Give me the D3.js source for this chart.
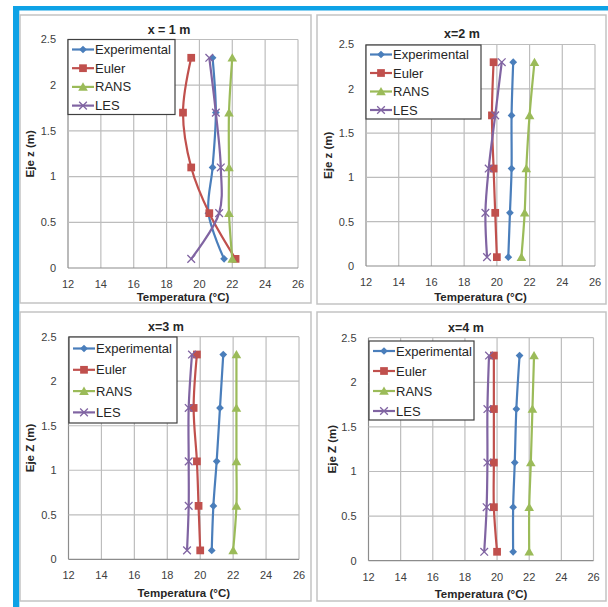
<!DOCTYPE html>
<html>
<head>
<meta charset="utf-8">
<script src="https://cdn.jsdelivr.net/npm/d3@7"></script>
<style>
  body { margin: 0; background: #fff; }
  svg { display: block; font-family: "Liberation Sans", Arial, sans-serif; }
  .tick-label { font-size: 11px; fill: #404040; }
  .axis-title { font-size: 11.5px; font-weight: bold; fill: #262626; }
  .chart-title { font-size: 12.5px; font-weight: bold; fill: #262626; }
  .legend-label { font-size: 13px; fill: #262626; }
</style>
</head>
<body>
<svg id="chart" width="608" height="607"></svg>
<script>
'use strict';

// ---- data ----
var seriesNames = ['Experimental', 'Euler', 'RANS', 'LES'];
var seriesColors = ['#4a7ebb', '#c0504d', '#9bbb59', '#8064a2'];
var seriesSymbols = ['diamond', 'square', 'triangle', 'times'];

var zLevels = [0.1, 0.6, 1.1, 1.7, 2.3];

var xTicks = [12, 14, 16, 18, 20, 22, 24, 26];
var yTicks = [0, 0.5, 1, 1.5, 2, 2.5];

var panelTitles = ['x = 1 m', 'x=2 m', 'x=3 m', 'x=4 m'];
var yTitles = ['Eje z (m)', 'Eje z (m)', 'Eje Z (m)', 'Eje Z (m)'];
var xTitle = 'Temperatura (°C)';

// temperatures per series (Experimental, Euler, RANS, LES), ordered as zLevels
var tempX1 = [
  [21.5, 20.55, 20.8, 21.0, 20.8],
  [22.2, 20.6, 19.5, 19.0, 19.5],
  [22.0, 21.8, 21.8, 21.8, 22.0],
  [19.5, 21.2, 21.3, 21.0, 20.6]
];
var tempX2 = [
  [20.7, 20.8, 20.9, 20.9, 21.0],
  [20.0, 19.9, 19.8, 19.7, 19.8],
  [21.5, 21.7, 21.8, 22.0, 22.3],
  [19.4, 19.3, 19.5, 19.9, 20.3]
];
var tempX3 = [
  [20.7, 20.8, 21.0, 21.2, 21.4],
  [20.0, 19.9, 19.8, 19.6, 19.8],
  [22.0, 22.2, 22.2, 22.2, 22.2],
  [19.2, 19.3, 19.3, 19.3, 19.5]
];
var tempX4 = [
  [21.0, 21.0, 21.1, 21.2, 21.4],
  [20.0, 19.8, 19.8, 19.8, 19.8],
  [22.0, 22.0, 22.1, 22.2, 22.3],
  [19.2, 19.35, 19.4, 19.4, 19.5]
];
var panelTemps = [tempX1, tempX2, tempX3, tempX4];

// ---- layout ----
var panels = [
  { box: [20, 15, 311, 303], plot: [68, 39.5, 298, 268], titleX: 169, titleY: 30, yTitleX: 30,
    legend: [68, 39.5, 175, 114.5], legendY0: 49.5, legendStep: 18.7, xTitleY: 297 },
  { box: [317, 15, 606, 304], plot: [366, 44.5, 595, 266], titleX: 462, titleY: 34, yTitleX: 328,
    legend: [366, 45, 481, 119], legendY0: 54.5, legendStep: 18.5, xTitleY: 297 },
  { box: [20, 312, 311, 601], plot: [68.5, 336.7, 299, 559.3], titleX: 166, titleY: 327, yTitleX: 30,
    legend: [69, 337, 177, 423], legendY0: 348.5, legendStep: 21.3, xTitleY: 593 },
  { box: [317, 312, 606, 601], plot: [368.5, 337.7, 593.5, 560.7], titleX: 466, titleY: 328, yTitleX: 332,
    legend: [369, 341, 474, 420], legendY0: 351, legendStep: 20, xTitleY: 593.5 }
];

var svg = d3.select('#chart');

// blue frame
svg.append('rect').attr('x', 13).attr('y', 6).attr('width', 595).attr('height', 4.5).attr('fill', '#0ea2e6');
svg.append('rect').attr('x', 13).attr('y', 6).attr('width', 6.3).attr('height', 601).attr('fill', '#0ea2e6');

function symbolPath(name) {
  if (name === 'diamond') return d3.symbol(d3.symbolSquare, 30)();
  if (name === 'square') return d3.symbol(d3.symbolSquare, 60)();
  if (name === 'triangle') return d3.symbol(d3.symbolTriangle, 40)();
  return d3.symbol(d3.symbolTimes, 40)();
}

function drawMarker(g, i, x, y) {
  var m = g.append('path')
    .attr('d', symbolPath(seriesSymbols[i]));
  if (seriesSymbols[i] === 'times') {
    m.attr('fill', 'none').attr('stroke', seriesColors[i]).attr('stroke-width', 1.3)
      .attr('transform', 'translate(' + x + ',' + y + ')');
  } else if (seriesSymbols[i] === 'diamond') {
    m.attr('fill', seriesColors[i])
      .attr('transform', 'translate(' + x + ',' + y + ') rotate(45)');
  } else {
    m.attr('fill', seriesColors[i])
      .attr('transform', 'translate(' + x + ',' + y + ')' + (seriesSymbols[i] === 'triangle' ? ' translate(0,1)' : ''));
  }
}

panels.forEach(function(p, k) {
  var g = svg.append('g');

  g.append('rect')
    .attr('x', p.box[0]).attr('y', p.box[1])
    .attr('width', p.box[2] - p.box[0]).attr('height', p.box[3] - p.box[1])
    .attr('fill', '#fff').attr('stroke', '#c3c3c3').attr('stroke-width', 1.5);

  var xScale = d3.scaleLinear().domain([12, 26]).range([p.plot[0], p.plot[2]]);
  var yScale = d3.scaleLinear().domain([0, 2.5]).range([p.plot[3], p.plot[1]]);

  // grid
  g.selectAll('.vgrid').data(xTicks).enter().append('line')
    .attr('x1', function(d) { return xScale(d); }).attr('x2', function(d) { return xScale(d); })
    .attr('y1', yScale(0)).attr('y2', yScale(2.5))
    .attr('stroke', function(d) { return d === 12 ? '#8c8c8c' : '#bdbdbd'; }).attr('stroke-width', 1.2);
  g.selectAll('.hgrid').data(yTicks).enter().append('line')
    .attr('y1', function(d) { return yScale(d); }).attr('y2', function(d) { return yScale(d); })
    .attr('x1', xScale(12)).attr('x2', xScale(26))
    .attr('stroke', function(d) { return d === 0 ? '#8c8c8c' : '#bdbdbd'; }).attr('stroke-width', 1.2);

  // tick labels
  g.selectAll('.xt').data(xTicks).enter().append('text')
    .attr('class', 'tick-label')
    .attr('x', function(d) { return xScale(d); })
    .attr('y', yScale(0) + 16)
    .attr('dy', '0.35em')
    .attr('text-anchor', 'middle')
    .text(function(d) { return d; });
  g.selectAll('.yt').data(yTicks).enter().append('text')
    .attr('class', 'tick-label')
    .attr('x', xScale(12) - 12)
    .attr('y', function(d) { return yScale(d); })
    .attr('dy', '0.35em')
    .attr('text-anchor', 'end')
    .text(function(d) { return d; });

  // titles
  var cx = (p.plot[0] + p.plot[2]) / 2, cy = (p.plot[1] + p.plot[3]) / 2;
  g.append('text').attr('class', 'chart-title')
    .attr('x', p.titleX).attr('y', p.titleY).attr('dy', '0.35em')
    .attr('text-anchor', 'middle').text(panelTitles[k]);
  g.append('text').attr('class', 'axis-title')
    .attr('x', cx).attr('y', p.xTitleY).attr('dy', '0.35em')
    .attr('text-anchor', 'middle').text(xTitle);
  g.append('text').attr('class', 'axis-title')
    .attr('transform', 'translate(' + p.yTitleX + ',' + cy + ') rotate(-90)')
    .attr('dy', '0.35em')
    .attr('text-anchor', 'middle').text(yTitles[k]);

  // series
  var line = d3.line()
    .x(function(d) { return xScale(d[0]); })
    .y(function(d) { return yScale(d[1]); })
    .curve(d3.curveCatmullRom.alpha(0.5));

  panelTemps[k].forEach(function(temps, i) {
    var pts = temps.map(function(t, j) { return [t, zLevels[j]]; });
    g.append('path')
      .attr('d', line(pts))
      .attr('fill', 'none')
      .attr('stroke', seriesColors[i])
      .attr('stroke-width', 2.2);
    pts.forEach(function(pt) {
      drawMarker(g, i, xScale(pt[0]), yScale(pt[1]));
    });
  });

  // legend
  var lg = g.append('g').attr('class', 'legend');
  lg.append('rect')
    .attr('x', p.legend[0]).attr('y', p.legend[1])
    .attr('width', p.legend[2] - p.legend[0]).attr('height', p.legend[3] - p.legend[1])
    .attr('fill', '#fff').attr('stroke', '#404040').attr('stroke-width', 1.2);
  seriesNames.forEach(function(name, i) {
    var y = p.legendY0 + i * p.legendStep;
    var x0 = p.legend[0] + 4;
    lg.append('line')
      .attr('x1', x0).attr('x2', x0 + 22).attr('y1', y).attr('y2', y)
      .attr('stroke', seriesColors[i]).attr('stroke-width', 2.2);
    drawMarker(lg, i, x0 + 11, y);
    lg.append('text').attr('class', 'legend-label')
      .attr('x', x0 + 23).attr('y', y).attr('dy', '0.35em')
      .text(name);
  });
});
</script>
</body>
</html>
